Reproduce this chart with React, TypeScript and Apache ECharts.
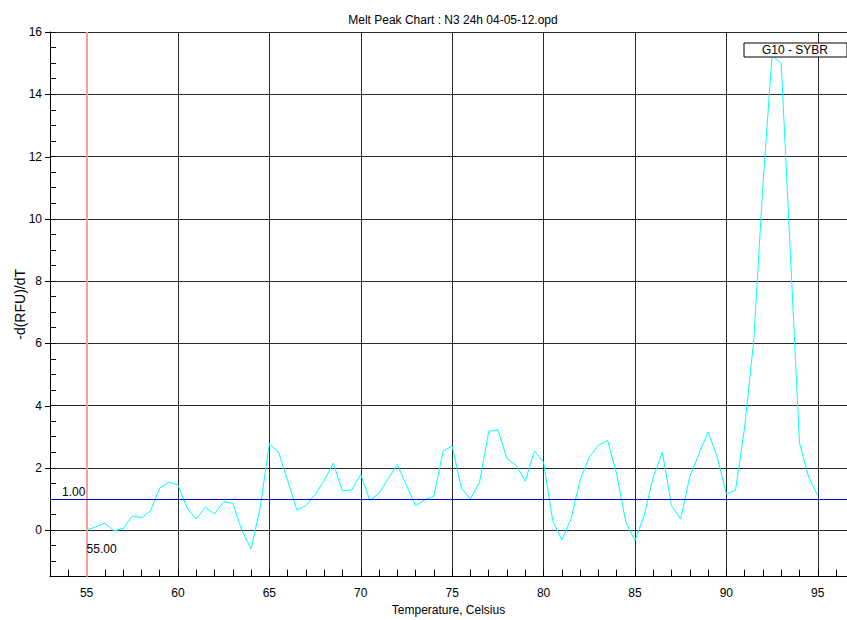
import React, { useEffect, useRef } from 'react';
import * as echarts from 'echarts';

const chartTitle = 'Melt Peak Chart : N3 24h 04-05-12.opd';
const seriesName = 'G10 - SYBR';
const xAxisName = 'Temperature, Celsius';
const yAxisName = '-d(RFU)/dT';

const temperatures = [
  55.0, 55.5, 56.0, 56.5, 57.0, 57.5, 58.0, 58.5, 59.0, 59.5,
  60.0, 60.5, 61.0, 61.5, 62.0, 62.5, 63.0, 63.5, 64.0, 64.5,
  65.0, 65.5, 66.0, 66.5, 67.0, 67.5, 68.0, 68.5, 69.0, 69.5,
  70.0, 70.5, 71.0, 71.5, 72.0, 72.5, 73.0, 73.5, 74.0, 74.5,
  75.0, 75.5, 76.0, 76.5, 77.0, 77.5, 78.0, 78.5, 79.0, 79.5,
  80.0, 80.5, 81.0, 81.5, 82.0, 82.5, 83.0, 83.5, 84.0, 84.5,
  85.0, 85.5, 86.0, 86.5, 87.0, 87.5, 88.0, 88.5, 89.0, 89.5,
  90.0, 90.5, 91.0, 91.5, 92.0, 92.5, 93.0, 93.5, 94.0, 94.5,
  95.0,
];

const meltValues = [
  0.0, 0.1, 0.22, -0.03, 0.05, 0.45, 0.39, 0.62, 1.35, 1.54,
  1.45, 0.71, 0.35, 0.73, 0.52, 0.91, 0.86, -0.02, -0.61, 0.73,
  2.77, 2.5, 1.59, 0.65, 0.78, 1.14, 1.59, 2.15, 1.25, 1.29,
  1.78, 0.95, 1.18, 1.65, 2.1, 1.43, 0.78, 0.97, 1.09, 2.53,
  2.7, 1.35, 1.0, 1.54, 3.17, 3.22, 2.29, 2.08, 1.57, 2.54,
  2.18, 0.3, -0.32, 0.35, 1.61, 2.34, 2.72, 2.88, 1.8, 0.25,
  -0.34, 0.46, 1.7, 2.5, 0.78, 0.35, 1.72, 2.45, 3.15, 2.34,
  1.16, 1.27, 3.3, 6.1, 11.1, 15.24, 15.0, 8.9, 2.8, 1.7,
  1.1,
];

const thresholdValue = 1.0;
const startTemperature = 55.0;
const xRange = [53, 96.6];
const yRange = [-1.5, 16];
const yMajorTicks = [0, 2, 4, 6, 8, 10, 12, 14, 16];

const FONT = 'Arial, "Liberation Sans", sans-serif';
const GRID = '#2a2a2a';
const T = 'rgba(0,0,0,0)';

export default function App() {
  const ref = useRef<HTMLDivElement>(null);

  useEffect(() => {
    document.body.style.margin = '0';
    if (!ref.current) return;
    const chart = echarts.init(ref.current, null, { renderer: 'svg' });

    const option: any = {
      animation: false,
      backgroundColor: '#ffffff',
      title: {
        text: chartTitle,
        left: 448,
        top: 9,
        textAlign: 'center',
        textStyle: { fontSize: 12, fontWeight: 'normal', color: '#000', fontFamily: FONT },
      },
      legend: {
        data: [{ name: seriesName, icon: 'none' }],
        left: 744,
        top: 43,
        itemWidth: 0,
        itemHeight: 12,
        padding: [1, 19, 1, 13],
        backgroundColor: '#ffffff',
        borderColor: '#000',
        borderWidth: 1,
        borderRadius: 0,
        selectedMode: false,
        textStyle: { fontSize: 12, color: '#000', fontFamily: FONT },
      },
      grid: {
        left: 50,
        right: 0,
        top: 32,
        bottom: 43.3,
        containLabel: false,
        outerBoundsMode: 'none',
      },
      xAxis: {
        type: 'value',
        min: xRange[0],
        max: xRange[1],
        interval: 1,
        name: xAxisName,
        nameLocation: 'middle',
        nameGap: 26,
        nameTextStyle: { fontSize: 12, color: '#000', fontFamily: FONT },
        axisLine: { show: true, onZero: false, lineStyle: { color: '#000', width: 1 } },
        axisTick: { show: true, inside: true, length: 7, lineStyle: { color: '#000', width: 1 } },
        axisLabel: {
          margin: 10,
          fontSize: 12,
          color: '#000',
          fontFamily: FONT,
          formatter: (v: number) => (Math.abs(v - Math.round(v / 5) * 5) < 1e-6 ? String(Math.round(v)) : ''),
        },
        splitLine: { show: true, lineStyle: { color: [T, T, GRID, T, T], width: 1 } },
      },
      yAxis: {
        type: 'value',
        min: yRange[0],
        max: yRange[1],
        interval: 0.5,
        name: yAxisName,
        nameLocation: 'middle',
        nameGap: 23,
        nameMoveOverlap: false,
        nameRotate: 90,
        nameTextStyle: { fontSize: 14, color: '#000', fontFamily: FONT },
        axisLine: { show: true, onZero: false, lineStyle: { color: '#000', width: 1 } },
        axisTick: { show: true, inside: true, length: 6, lineStyle: { color: '#000', width: 1 } },
        axisLabel: {
          margin: 8,
          fontSize: 12,
          color: '#000',
          fontFamily: FONT,
          formatter: (v: number) => (Math.abs(v % 2) < 1e-6 ? String(Math.round(v)) : ''),
        },
        splitLine: { show: true, lineStyle: { color: [T, T, T, GRID], width: 1 } },
      },
      series: [
        {
          name: seriesName,
          type: 'line',
          data: temperatures.map((t, i) => [t, meltValues[i]]),
          showSymbol: false,
          symbol: 'none',
          lineStyle: { color: '#00ffff', width: 1 },
          itemStyle: { color: '#00ffff' },
          z: 3,
          markLine: {
            silent: true,
            symbol: 'none',
            animation: false,
            z: 5,
            label: { show: false },
            data: [
              { xAxis: startTemperature, lineStyle: { color: '#f6a195', width: 2, type: 'solid' } },
              { yAxis: thresholdValue, lineStyle: { color: '#0000dd', width: 1, type: 'solid' } },
            ],
          },
          markPoint: {
            silent: true,
            symbol: 'circle',
            symbolSize: 0,
            animation: false,
            label: { show: true, color: '#000', fontSize: 12, fontFamily: FONT },
            data: [
              {
                coord: [startTemperature, 0],
                label: { position: [0, 13], formatter: startTemperature.toFixed(2) },
              },
              {
                coord: [xRange[0], thresholdValue],
                label: { position: [12, -13], formatter: thresholdValue.toFixed(2) },
              },
            ],
          },
        },
        {
          type: 'custom',
          silent: true,
          clip: false,
          z: 4,
          data: yMajorTicks.map((v) => [xRange[0], v]),
          renderItem: (params: any, api: any) => {
            const p = api.coord([api.value(0), api.value(1)]);
            const y = Math.round(p[1]) + 0.5;
            return {
              type: 'line',
              shape: { x1: p[0] - 5, y1: y, x2: p[0], y2: y },
              style: { stroke: '#000', lineWidth: 1 },
            };
          },
        },
      ],
    };

    chart.setOption(option);
    return () => chart.dispose();
  }, []);

  return (
    <div
      ref={ref}
      style={{ position: 'absolute', left: 0, top: 0, width: 847, height: 620 }}
    />
  );
}
